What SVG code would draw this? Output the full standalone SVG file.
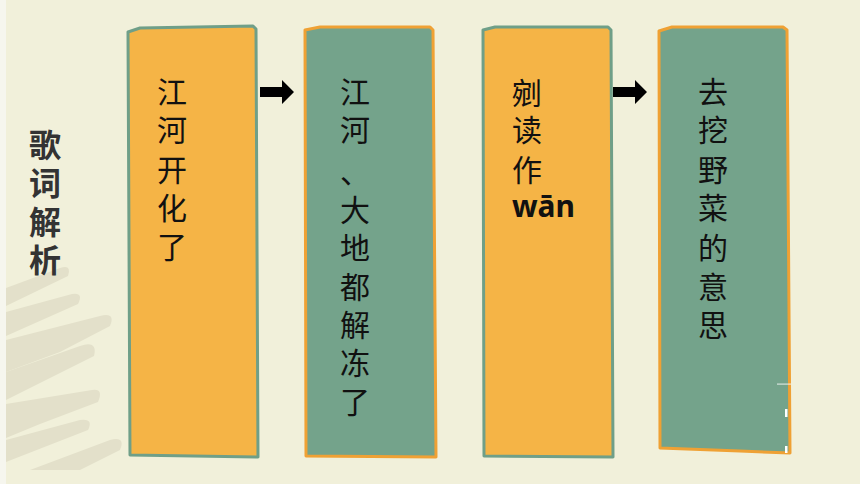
<svg xmlns="http://www.w3.org/2000/svg" width="860" height="484" viewBox="0 0 860 484">
<style>
.cjk{font-family:"Noto Sans CJK SC","Noto Sans",sans-serif;font-size:30px;fill:#111;text-anchor:middle}
.title{font-family:"Noto Sans CJK SC","Noto Sans",sans-serif;font-size:32px;font-weight:bold;fill:#333;text-anchor:middle}
.orange{fill:#F5B446;stroke:#6F9F88;stroke-width:3;stroke-linejoin:round}
.teal{fill:#74A38B;stroke:#EFA134;stroke-width:3;stroke-linejoin:round}
.brush{fill:#E3E0CA}
</style>
<defs>
<path id="arrow" d="M0,-5 L22,-5 L22,-12 L34,0 L22,12 L22,5 L0,5 Z" fill="#000"/>
</defs>
<rect x="0" y="0" width="860" height="484" fill="#F1F0DA"/>
<rect x="0" y="0" width="6" height="484" fill="#F6F6EE"/>
<g id="background-brush">
<path class="brush" d="M6,288 L60,268 Q72,264 68,276 L6,306 Z"/>
<path class="brush" d="M6,312 L72,294 Q84,292 78,304 L6,336 Z"/>
<path class="brush" d="M6,340 L100,316 Q116,312 110,326 L60,352 L6,372 Z"/>
<path class="brush" d="M6,372 L80,346 Q98,340 94,356 L6,400 Z"/>
<path class="brush" d="M6,404 L92,390 Q104,388 98,402 L40,424 L6,438 Z"/>
<path class="brush" d="M6,440 L80,420 Q94,418 88,430 L6,462 Z"/>
<path class="brush" d="M30,470 L110,440 Q126,436 120,450 L80,470 Z"/>
</g>
<g id="title">
<text class="title" x="45" y="157">歌</text>
<text class="title" x="45" y="195">词</text>
<text class="title" x="45" y="234">解</text>
<text class="title" x="45" y="272">析</text>
</g>
<g id="node1">
<path class="orange" d="M128,32 L140,28 L253,26 L256,29 L258,457 L130,455 Z"/>
<text class="cjk" x="172" y="103">江</text>
<text class="cjk" x="172" y="141">河</text>
<text class="cjk" x="172" y="181">开</text>
<text class="cjk" x="172" y="219">化</text>
<text class="cjk" x="172" y="258">了</text>
</g>
<g id="node2">
<path class="teal" d="M305,30 L320,27 L430,27 L433,30 L436,457 L306,456 Z"/>
<text class="cjk" x="355" y="103">江</text>
<text class="cjk" x="355" y="141">河</text>
<text class="cjk" x="355" y="183">、</text>
<text class="cjk" x="355" y="221">大</text>
<text class="cjk" x="355" y="259">地</text>
<text class="cjk" x="355" y="298">都</text>
<text class="cjk" x="355" y="336">解</text>
<text class="cjk" x="355" y="374">冻</text>
<text class="cjk" x="355" y="413">了</text>
</g>
<g id="node3">
<path class="orange" d="M483,30 L495,27 L608,27 L611,30 L613,457 L484,456 Z"/>
<text class="cjk" x="527" y="104">剜</text>
<text class="cjk" x="527" y="141">读</text>
<text class="cjk" x="527" y="181">作</text>
<text x="512" y="217" font-family="'Noto Sans','Open Sans',sans-serif" font-size="30" font-weight="bold" fill="#111" textLength="63" lengthAdjust="spacingAndGlyphs">wān</text>
</g>
<g id="node4">
<path class="teal" d="M659,31 L672,27 L783,27 L787,30 L790,453 L740,451 L660,448 Z"/>
<text class="cjk" x="713" y="103">去</text>
<text class="cjk" x="713" y="141">挖</text>
<text class="cjk" x="713" y="181">野</text>
<text class="cjk" x="713" y="219">菜</text>
<text class="cjk" x="713" y="259">的</text>
<text class="cjk" x="713" y="298">意</text>
<text class="cjk" x="713" y="336">思</text>
<g fill="#FFFFFF">
<rect x="777" y="383.5" width="14" height="1.2" opacity="0.7"/>
<rect x="785" y="409" width="2.5" height="8"/>
<rect x="785" y="446" width="2.5" height="7"/>
</g>
</g>
<g id="connectors">
<use href="#arrow" x="260" y="92"/>
<use href="#arrow" x="613" y="92"/>
</g>
</svg>
